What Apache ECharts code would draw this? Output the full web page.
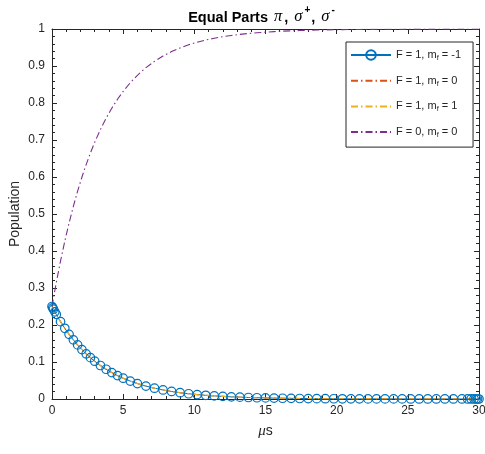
<!DOCTYPE html>
<html>
<head>
<meta charset="utf-8">
<script src="https://cdn.jsdelivr.net/npm/echarts@6/dist/echarts.min.js"></script>
<style>html,body{margin:0;padding:0;background:#fff}#c{width:485px;height:454px}</style>
</head>
<body>
<div id="c"></div>
<script>
// time samples (microseconds)
const timeUs = [0,0.05,0.1,0.2,0.3,0.6,0.9,1.2,1.5,1.8,2.1,2.4,2.7,3.0,3.4,3.8,4.2,4.6,5.0,5.5,6.0,6.6,7.2,7.8,8.4,9.0,9.6,10.2,10.8,11.4,12.0,12.6,13.2,13.8,14.4,15.0,15.6,16.2,16.8,17.4,18.0,18.6,19.2,19.8,20.4,21.0,21.6,22.2,22.8,23.4,24.0,24.6,25.2,25.8,26.4,27.0,27.6,28.2,28.8,29.2,29.45,29.65,29.8,29.9,30];
// F = 1 populations (all three sublevels coincide)
const popF1mMinus1 = [0.25,0.2463,0.2427,0.2355,0.2286,0.209,0.1911,0.1747,0.1598,0.1461,0.1336,0.1221,0.1117,0.1021,0.0906,0.0804,0.0714,0.0633,0.0562,0.0484,0.0417,0.0349,0.0292,0.0244,0.0204,0.017,0.0142,0.0119,0.01,0.0083,0.007,0.0058,0.0049,0.0041,0.0034,0.0029,0.0024,0.002,0.0017,0.0014,0.0012,0.001,0.0008,0.0007,0.0006,0.0005,0.0004,0.0003,0.0003,0.0002,0.0002,0.0002,0.0001,0.0001,0.0001,0.0001,0.0001,0.0001,0.0001,0.0001,0.0001,0.0001,0,0,0];
const popF1m0 = [0.25,0.2463,0.2427,0.2355,0.2286,0.209,0.1911,0.1747,0.1598,0.1461,0.1336,0.1221,0.1117,0.1021,0.0906,0.0804,0.0714,0.0633,0.0562,0.0484,0.0417,0.0349,0.0292,0.0244,0.0204,0.017,0.0142,0.0119,0.01,0.0083,0.007,0.0058,0.0049,0.0041,0.0034,0.0029,0.0024,0.002,0.0017,0.0014,0.0012,0.001,0.0008,0.0007,0.0006,0.0005,0.0004,0.0003,0.0003,0.0002,0.0002,0.0002,0.0001,0.0001,0.0001,0.0001,0.0001,0.0001,0.0001,0.0001,0.0001,0.0001,0,0,0];
const popF1m1 = [0.25,0.2463,0.2427,0.2355,0.2286,0.209,0.1911,0.1747,0.1598,0.1461,0.1336,0.1221,0.1117,0.1021,0.0906,0.0804,0.0714,0.0633,0.0562,0.0484,0.0417,0.0349,0.0292,0.0244,0.0204,0.017,0.0142,0.0119,0.01,0.0083,0.007,0.0058,0.0049,0.0041,0.0034,0.0029,0.0024,0.002,0.0017,0.0014,0.0012,0.001,0.0008,0.0007,0.0006,0.0005,0.0004,0.0003,0.0003,0.0002,0.0002,0.0002,0.0001,0.0001,0.0001,0.0001,0.0001,0.0001,0.0001,0.0001,0.0001,0.0001,0,0,0];
// F = 0 population
const popF0m0 = [0.25,0.2613,0.2721,0.2934,0.3143,0.373,0.4267,0.4758,0.5207,0.5618,0.5994,0.6336,0.665,0.6937,0.7282,0.7588,0.786,0.81,0.8314,0.8548,0.8749,0.8955,0.9126,0.9269,0.9389,0.9489,0.9573,0.9643,0.9702,0.975,0.9792,0.9825,0.9855,0.9878,0.9898,0.9915,0.9929,0.9941,0.9951,0.9959,0.9965,0.9971,0.9976,0.998,0.9983,0.9986,0.9988,0.999,0.9992,0.9993,0.9994,0.9995,0.9996,0.9997,0.9997,0.9998,0.9998,0.9998,0.9999,0.9999,0.9999,0.9999,1,1,1];
const seriesNames = ['F = 1, m_f = -1','F = 1, m_f = 0','F = 1, m_f = 1','F = 0, m_f = 0'];
const xTicks = [0,5,10,15,20,25,30];
const yTicks = [0,0.1,0.2,0.3,0.4,0.5,0.6,0.7,0.8,0.9,1];

const pairs = arr => timeUs.map((t,i)=>[t,arr[i]]);
const axisCol = '#262626';
const font = 'Liberation Sans, Arial, Helvetica, sans-serif';
const serif = 'Liberation Serif, Times New Roman, serif';
const dashDot = [7,3,1.5,3];

const chart = echarts.init(document.getElementById('c'), null, {renderer:'canvas'});
const baseX = {
  type:'value', min:0, max:30, interval:5,
  axisLine:{show:true, onZero:false, lineStyle:{color:axisCol, width:1}},
  axisTick:{show:true, inside:true, length:5, lineStyle:{color:axisCol}},
  minorTick:{show:true, splitNumber:5, length:3, lineStyle:{color:axisCol}},
  splitLine:{show:false}
};
const baseY = {
  type:'value', min:0, max:1, interval:0.1,
  axisLine:{show:true, onZero:false, lineStyle:{color:axisCol, width:1}},
  axisTick:{show:true, inside:true, length:5, lineStyle:{color:axisCol}},
  minorTick:{show:true, splitNumber:5, length:3, lineStyle:{color:axisCol}},
  splitLine:{show:false}
};
const hideSym = {color:'rgba(0,0,0,0)', borderWidth:0, opacity:0};
chart.setOption({
  animation:false,
  backgroundColor:'#fff',
  grid:{left:52, right:6, top:29, bottom:55, containLabel:false, outerBoundsMode:'none'},
  xAxis:[
    Object.assign({}, baseX, {position:'bottom',
      axisLabel:{show:true, color:axisCol, fontFamily:font, fontSize:12, margin:6,
        formatter: v => xTicks.includes(v) ? String(v) : ''},
      name:'{g|\u03bc}{n|s}', nameLocation:'middle', nameGap:25, nameMoveOverlap:false,
      nameTextStyle:{rich:{g:{fontFamily:serif, fontStyle:'italic', fontSize:15, color:axisCol},
                           n:{fontFamily:font, fontSize:14, color:axisCol}}}}),
    Object.assign({}, baseX, {position:'top', axisLabel:{show:false}})
  ],
  yAxis:[
    Object.assign({}, baseY, {position:'left',
      axisLabel:{show:true, color:axisCol, fontFamily:font, fontSize:12, margin:7,
        formatter: v => { const t = yTicks.find(y=>Math.abs(y-v)<1e-9); return t===undefined ? '' : String(t); }},
      name:'Population', nameLocation:'middle', nameGap:30, nameMoveOverlap:false,
      nameTextStyle:{fontFamily:font, fontSize:14, color:axisCol}}),
    Object.assign({}, baseY, {position:'right', axisLabel:{show:false}})
  ],
  legend:{
    orient:'vertical', left:346, top:42, width:120,
    padding:[6,12,8,4], itemWidth:40, itemHeight:12, itemGap:11.7,
    backgroundColor:'#fff', borderColor:axisCol, borderWidth:1,
    data:[
      {name:seriesNames[0]},
      {name:seriesNames[1], itemStyle:hideSym},
      {name:seriesNames[2], itemStyle:hideSym},
      {name:seriesNames[3], itemStyle:hideSym}
    ],
    formatter: n => n.replace('m_f','m{sub|f}'),
    textStyle:{fontFamily:font, fontSize:11, color:axisCol, lineHeight:12,
      rich:{sub:{fontFamily:font, fontSize:7.5, color:axisCol, padding:[6,0,0,0], lineHeight:12}}}
  },
  graphic:[{
    type:'text', x:262, y:5,
    style:{
      align:'center', verticalAlign:'top',
      text:'{b|Equal Parts }{g|\u03c0}{b|, }{g|\u03c3}{s|+}{b|, }{g|\u03c3}{s|-}',
      rich:{
        b:{fontFamily:font, fontWeight:'bold', fontSize:14.5, fill:'#000', lineHeight:20, verticalAlign:'bottom'},
        g:{fontFamily:serif, fontStyle:'italic', fontSize:16.5, fill:'#000', lineHeight:20, verticalAlign:'bottom', padding:[0,2,0,2]},
        s:{fontFamily:font, fontWeight:'bold', fontSize:10, fill:'#000', lineHeight:20, verticalAlign:'top', padding:[0,1,0,0]}
      }
    }
  }],
  series:[
    {name:seriesNames[0], type:'line', data:pairs(popF1mMinus1), symbol:'circle', symbolSize:8.5, showSymbol:true,
     lineStyle:{color:'#0072BD', width:1}, itemStyle:{color:'rgba(255,255,255,0)', borderColor:'#0072BD', borderWidth:1.2}},
    {name:seriesNames[1], type:'line', data:pairs(popF1m0), symbol:'none',
     lineStyle:{color:'#D95319', width:1.1, type:dashDot}, itemStyle:{color:'#D95319'}},
    {name:seriesNames[2], type:'line', data:pairs(popF1m1), symbol:'none',
     lineStyle:{color:'#EDB120', width:1.1, type:dashDot}, itemStyle:{color:'#EDB120'}},
    {name:seriesNames[3], type:'line', data:pairs(popF0m0), symbol:'none',
     lineStyle:{color:'#7E2F8E', width:1.1, type:dashDot}, itemStyle:{color:'#7E2F8E'}}
  ]
});
</script>
</body>
</html>
